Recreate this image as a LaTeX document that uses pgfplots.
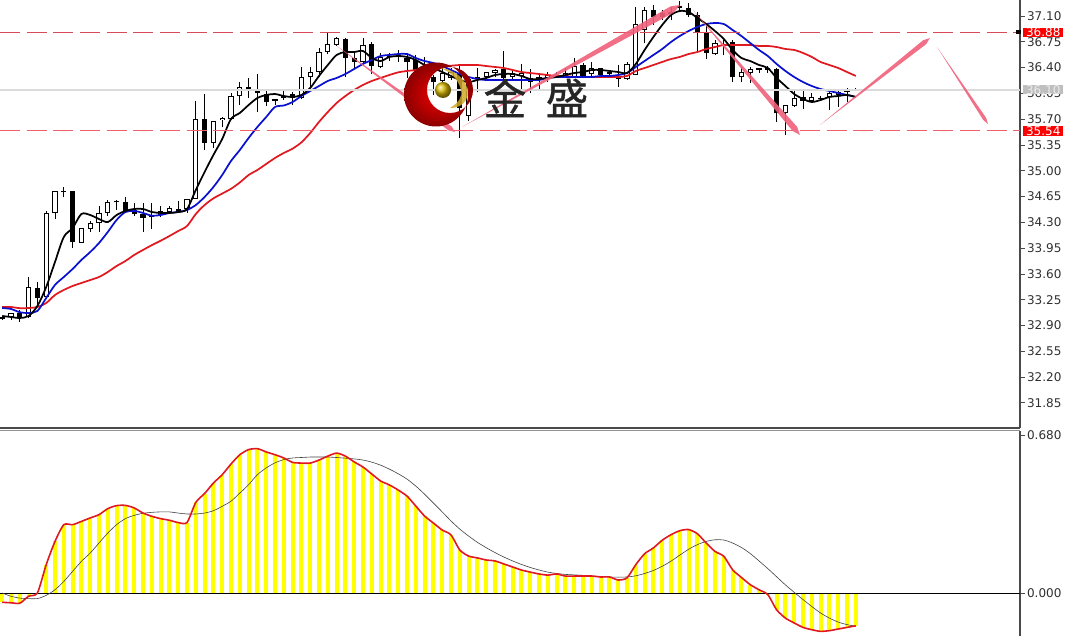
\documentclass[border=0pt]{standalone}
\usepackage{fontspec}
\usepackage{pgfplots}
\usepackage{pgfplotstable}
\pgfplotsset{compat=1.18}
\setmainfont{DejaVu Sans}
\newfontfamily\cjk[FakeBold=1]{Noto Sans CJK SC}

\definecolor{dashtop}{HTML}{D84A58}
\definecolor{dashlow}{HTML}{F0606C}
\definecolor{arrowpink}{HTML}{F0607A}
\definecolor{axisgray}{HTML}{4A4A4A}
\definecolor{ticktext}{HTML}{303030}
\definecolor{blueline}{HTML}{0A10D0}
\definecolor{redline}{HTML}{E01820}
\definecolor{histyellow}{HTML}{FFFF00}

% bar, open, high, low, close
\pgfplotstableread{
i open high low close
0 33.01 33.03 32.97 32.99
1 33.02 33.07 32.98 33.07
2 33.07 33.11 32.95 33.00
3 33.02 33.56 33.00 33.42
4 33.41 33.49 33.15 33.27
5 33.29 34.45 33.27 34.43
6 34.43 34.73 34.35 34.73
7 34.73 34.78 34.64 34.71
8 34.73 34.73 33.95 34.03
9 34.02 34.22 34.02 34.22
10 34.21 34.32 34.17 34.29
11 34.29 34.52 34.17 34.43
12 34.43 34.60 34.39 34.58
13 34.59 34.60 34.47 34.57
14 34.58 34.64 34.43 34.44
15 34.47 34.56 34.39 34.41
16 34.41 34.56 34.17 34.36
17 34.39 34.56 34.21 34.37
18 34.40 34.52 34.37 34.45
19 34.44 34.52 34.44 34.49
20 34.48 34.59 34.44 34.44
21 34.48 34.62 34.43 34.62
22 34.62 35.95 34.62 35.70
23 35.70 36.04 35.28 35.38
24 35.38 35.67 35.31 35.67
25 35.69 35.73 35.59 35.72
26 35.70 36.05 35.69 36.01
27 36.01 36.20 35.89 36.14
28 36.14 36.26 35.99 36.08
29 36.08 36.31 35.80 36.05
30 36.04 36.08 35.88 35.93
31 35.97 35.97 35.89 35.95
32 35.99 36.08 35.96 36.01
33 36.04 36.07 35.89 35.99
34 35.99 36.41 35.97 36.27
35 36.27 36.41 36.12 36.34
36 36.34 36.67 36.27 36.61
37 36.61 36.87 36.58 36.72
38 36.71 36.82 36.69 36.80
39 36.79 36.80 36.27 36.53
40 36.53 36.61 36.39 36.48
41 36.48 36.80 36.46 36.71
42 36.72 36.75 36.31 36.42
43 36.41 36.60 36.39 36.54
44 36.54 36.60 36.49 36.56
45 36.54 36.64 36.48 36.57
46 36.53 36.60 36.26 36.48
47 36.50 36.57 36.30 36.37
48 36.42 36.54 36.31 36.37
49 36.27 36.30 36.03 36.20
50 36.22 36.39 36.16 36.33
51 36.26 36.39 36.23 36.34
52 36.33 36.45 35.44 35.85
53 35.74 36.29 35.68 36.25
54 36.25 36.39 36.07 36.27
55 36.27 36.34 36.23 36.34
56 36.33 36.38 36.27 36.37
57 36.38 36.63 36.23 36.26
58 36.27 36.37 36.23 36.33
59 36.29 36.45 36.10 36.33
60 36.25 36.38 36.05 36.20
61 36.27 36.33 36.10 36.23
62 36.26 36.34 36.20 36.30
63 36.30 36.34 36.26 36.27
64 36.27 36.39 36.26 36.33
65 36.27 36.53 36.26 36.42
66 36.44 36.46 36.26 36.27
67 36.31 36.48 36.27 36.39
68 36.39 36.40 36.27 36.30
69 36.34 36.37 36.26 36.31
70 36.29 36.44 36.14 36.25
71 36.25 36.48 36.23 36.45
72 36.30 37.22 36.30 36.99
73 36.91 37.22 36.73 37.18
74 37.18 37.25 36.98 37.09
75 37.14 37.18 37.05 37.09
76 37.13 37.22 37.05 37.15
77 37.23 37.30 37.15 37.21
78 37.21 37.28 37.09 37.11
79 37.11 37.15 36.61 36.88
80 36.88 37.00 36.52 36.60
81 36.58 36.77 36.57 36.73
82 36.71 36.77 36.57 36.69
83 36.75 36.77 36.20 36.27
84 36.27 36.41 36.20 36.34
85 36.33 36.41 36.19 36.38
86 36.39 36.40 36.33 36.37
87 36.39 36.42 36.33 36.37
88 36.38 36.40 35.66 35.78
89 35.78 35.89 35.49 35.89
90 35.88 36.10 35.87 35.99
91 36.00 36.10 35.84 35.95
92 35.95 36.05 35.93 36.00
93 35.99 36.01 35.96 35.98
94 36.00 36.07 35.82 36.05
95 36.03 36.10 35.87 36.07
96 36.09 36.12 35.93 36.07
97 36.11 36.12 36.09 36.09
}\candles

% moving averages per bar
\pgfplotstableread{
i fast mid slow
0 33.029 33.137 33.151
1 33.015 33.124 33.151
2 33.002 33.080 33.135
3 33.029 33.070 33.137
4 33.165 33.097 33.151
5 33.422 33.273 33.205
6 33.762 33.450 33.314
7 34.101 33.558 33.382
8 34.223 33.667 33.436
9 34.413 33.789 33.477
10 34.399 33.897 33.517
11 34.345 34.019 33.558
12 34.304 34.169 33.626
13 34.399 34.332 33.707
14 34.454 34.440 33.775
15 34.481 34.454 33.857
16 34.481 34.427 33.925
17 34.440 34.390 33.990
18 34.427 34.399 34.050
19 34.427 34.427 34.114
20 34.440 34.440 34.182
21 34.481 34.467 34.250
22 34.739 34.535 34.413
23 34.983 34.644 34.535
24 35.214 34.779 34.625
25 35.431 34.942 34.690
26 35.702 35.132 34.755
27 35.784 35.281 34.840
28 35.892 35.444 34.942
29 35.987 35.594 35.010
30 36.028 35.729 35.092
31 36.041 35.865 35.173
32 36.014 35.885 35.241
33 36.001 35.933 35.300
34 36.028 36.014 35.385
35 36.123 36.082 35.512
36 36.286 36.150 35.662
37 36.435 36.218 35.797
38 36.571 36.259 35.919
39 36.611 36.313 36.014
40 36.611 36.381 36.096
41 36.625 36.449 36.164
42 36.530 36.503 36.218
43 36.489 36.557 36.259
44 36.544 36.571 36.299
45 36.557 36.584 36.335
46 36.544 36.584 36.354
47 36.503 36.530 36.367
48 36.435 36.489 36.394
49 36.394 36.462 36.408
50 36.340 36.421 36.421
51 36.286 36.367 36.425
52 36.231 36.313 36.435
53 36.204 36.272 36.435
54 36.231 36.245 36.435
55 36.259 36.231 36.421
56 36.299 36.231 36.408
57 36.313 36.231 36.394
58 36.313 36.231 36.367
59 36.286 36.231 36.340
60 36.245 36.231 36.326
61 36.245 36.231 36.313
62 36.259 36.259 36.299
63 36.272 36.272 36.286
64 36.299 36.272 36.286
65 36.326 36.272 36.272
66 36.340 36.272 36.272
67 36.367 36.272 36.272
68 36.367 36.286 36.272
69 36.354 36.286 36.272
70 36.340 36.299 36.272
71 36.326 36.326 36.286
72 36.449 36.408 36.354
73 36.639 36.489 36.394
74 36.815 36.571 36.435
75 36.978 36.652 36.476
76 37.113 36.747 36.516
77 37.168 36.828 36.544
78 37.154 36.896 36.584
79 37.073 36.951 36.611
80 36.991 36.991 36.652
81 36.896 37.005 36.679
82 36.788 36.991 36.706
83 36.639 36.910 36.706
84 36.530 36.828 36.706
85 36.489 36.734 36.706
86 36.435 36.639 36.693
87 36.394 36.557 36.693
88 36.259 36.449 36.679
89 36.150 36.354 36.652
90 36.041 36.272 36.639
91 35.974 36.204 36.598
92 35.933 36.150 36.544
93 35.960 36.109 36.476
94 36.001 36.082 36.435
95 36.014 36.055 36.394
96 36.028 36.028 36.340
97 36.001 36.001 36.286
}\averages

% lower panel
\pgfplotstableread{
i hist sig
0 -0.040 0.000
1 -0.042 -0.014
2 -0.044 -0.022
3 -0.014 -0.024
4 0.000 -0.024
5 0.122 -0.010
6 0.222 0.014
7 0.294 0.050
8 0.294 0.093
9 0.308 0.136
10 0.323 0.172
11 0.337 0.215
12 0.363 0.258
13 0.376 0.294
14 0.377 0.320
15 0.366 0.334
16 0.344 0.343
17 0.330 0.347
18 0.320 0.349
19 0.313 0.349
20 0.303 0.344
21 0.303 0.340
22 0.390 0.340
23 0.428 0.344
24 0.473 0.354
25 0.509 0.373
26 0.555 0.395
27 0.595 0.430
28 0.617 0.466
29 0.621 0.509
30 0.607 0.538
31 0.595 0.560
32 0.581 0.574
33 0.562 0.581
34 0.559 0.583
35 0.559 0.585
36 0.572 0.585
37 0.589 0.585
38 0.602 0.583
39 0.589 0.580
40 0.564 0.577
41 0.542 0.572
42 0.512 0.563
43 0.482 0.550
44 0.465 0.533
45 0.443 0.513
46 0.417 0.490
47 0.374 0.460
48 0.331 0.425
49 0.301 0.387
50 0.271 0.349
51 0.250 0.310
52 0.185 0.275
53 0.159 0.245
54 0.151 0.218
55 0.142 0.195
56 0.138 0.174
57 0.125 0.155
58 0.112 0.138
59 0.099 0.123
60 0.090 0.110
61 0.082 0.099
62 0.077 0.090
63 0.082 0.084
64 0.073 0.080
65 0.073 0.078
66 0.073 0.076
67 0.073 0.073
68 0.069 0.071
69 0.069 0.069
70 0.056 0.068
71 0.065 0.069
72 0.122 0.074
73 0.169 0.084
74 0.194 0.097
75 0.227 0.115
76 0.251 0.137
77 0.268 0.163
78 0.273 0.188
79 0.255 0.208
80 0.215 0.222
81 0.179 0.229
82 0.158 0.228
83 0.100 0.215
84 0.067 0.196
85 0.036 0.170
86 0.014 0.138
87 -0.007 0.105
88 -0.072 0.070
89 -0.108 0.035
90 -0.129 0.003
91 -0.148 -0.028
92 -0.158 -0.058
93 -0.165 -0.086
94 -0.162 -0.108
95 -0.155 -0.125
96 -0.148 -0.136
97 -0.141 -0.143
}\macd

\pgfplotsset{
  panel/.style={
    scale only axis, width=765pt, clip=true,
    xmin=-0.25, xmax=115.66,
    axis y line=right, axis x line=none,
    axis line style={-, draw=axisgray, line width=0.9pt},
    tick align=outside, major tick length=3.75pt,
    y tick style={draw=axisgray, line width=0.6pt},
    yticklabel style={font=\fontsize{9}{9}\selectfont, text=ticktext, xshift=-2pt},
  },
}

\begin{document}
\begin{tikzpicture}
\path[use as bounding box] (0,0) rectangle (799.5pt,477pt);

\begin{axis}[panel, at={(0,156pt)}, height=321pt,
  ymin=31.509, ymax=37.317,
  ytick={31.85,32.20,32.55,32.90,33.25,33.60,33.95,34.30,34.65,35.00,35.35,35.70,36.05,36.40,36.75,37.10},
  yticklabel style={/pgf/number format/.cd, fixed, fixed zerofill, precision=2, assume math mode=true},
]
  % wicks
  \addplot[draw=none, mark=none, error bars/.cd, y dir=plus, y explicit, error mark=none,
    error bar style={line width=0.7pt, draw=black}]
    table[x=i, y=low, y error plus expr=\thisrow{high}-\thisrow{low}] {\candles};
  % bodies: black, then a white core on the rising bars
  \addplot[draw=none, mark=none, error bars/.cd, y dir=plus, y explicit, error mark=none,
    error bar style={line width=3.9pt, draw=black}]
    table[x=i, y expr={min(\thisrow{open},\thisrow{close})},
      y error plus expr={abs(\thisrow{close}-\thisrow{open})}] {\candles};
  \addplot[draw=none, mark=none, error bars/.cd, y dir=plus, y explicit, error mark=none,
    error bar style={line width=2.4pt, draw=white}]
    table[x=i, y expr={\thisrow{open}+0.014},
      y error plus expr={max(\thisrow{close}-\thisrow{open}-0.028,0)}] {\candles};

  \addplot[redline, line width=1.3pt, smooth, tension=0.5] table[x=i, y=slow] {\averages};
  \addplot[blueline, line width=1.3pt, smooth, tension=0.5] table[x=i, y=mid] {\averages};
  \addplot[black, line width=1.3pt, smooth, tension=0.5] table[x=i, y=fast] {\averages};

  % price levels
  \addplot[black!14, line width=1.4pt] coordinates {(-0.25,36.10) (115.66,36.10)};
  \addplot[dashtop, line width=0.75pt, dash pattern=on 15pt off 5pt] coordinates {(-0.25,36.876) (115.66,36.876)};
  \addplot[dashlow, line width=0.75pt, dash pattern=on 15pt off 5pt] coordinates {(-0.25,35.54) (115.66,35.54)};

  % hand-drawn arrows
  \addplot[fill=arrowpink, draw=none, fill opacity=0.9] coordinates {(37.82,36.71) (51.07,35.600) (51.45,35.526) (50.73,35.546)} -- cycle;
  \addplot[fill=arrowpink, draw=none, fill opacity=0.9] coordinates {(52.25,35.594) (76.33,37.147) (77.02,37.249) (75.94,37.230)} -- cycle;
  \addplot[fill=arrowpink, draw=none, fill opacity=0.9] coordinates {(78.5,37.181) (90.33,35.595) (90.66,35.485) (89.81,35.541)} -- cycle;
  \addplot[fill=arrowpink, draw=none, fill opacity=0.9] coordinates {(92.93,35.621) (104.98,36.716) (105.43,36.801) (104.64,36.770)} -- cycle;
  \addplot[fill=arrowpink, draw=none, fill opacity=0.9] coordinates {(106.23,36.679) (111.82,35.716) (112.02,35.634) (111.48,35.689)} -- cycle;

  \coordinate (hi) at (axis cs:115.66,36.876);
  \coordinate (mid) at (axis cs:115.66,36.10);
  \coordinate (lo) at (axis cs:115.66,35.54);
\end{axis}

\begin{axis}[panel, at={(0,0)}, height=153.75pt,
  ymin=-0.185, ymax=0.697,
  ytick={0,0.68},
  yticklabel style={/pgf/number format/.cd, fixed, fixed zerofill, precision=3, assume math mode=true},
]
  \addplot[ycomb, histyellow, line width=3pt] table[x=i, y=hist] {\macd};
  \addplot[black, line width=0.6pt] coordinates {(-0.25,0) (115.66,0)};
  \addplot[black!75, line width=0.45pt, smooth, tension=0.5] table[x=i, y=sig] {\macd};
  \addplot[redline, line width=1.2pt, smooth, tension=0.4] table[x=i, y=hist] {\macd};
\end{axis}

% panel divider
\draw[axisgray, line width=1.1pt] (0,156pt) -- (765pt,156pt);
\draw[axisgray!60, line width=0.4pt] (0,154.6pt) -- (765pt,154.6pt);

% price boxes on the scale
\foreach \c/\f/\t/\v in {hi/red/white/36.88, mid/black!25/black!8/36.10, lo/red/white/35.54}
  \node[fill=\f, text=\t, anchor=west, inner sep=0pt, minimum width=30pt, minimum height=6.9pt,
    font=\fontsize{9}{9}\selectfont] at ([xshift=2.2pt]\c) {\v};
\fill[black] ([xshift=-2.8pt,yshift=-1.5pt]hi) rectangle ([xshift=0.4pt,yshift=1.5pt]hi);

% watermark logo and name
\begin{scope}[shift={(0pt,477pt)}, x=0.75pt, y=-0.75pt]
  \shade[even odd rule, inner color=red!95!black, outer color=red!55!black]
    (436,94.5) circle (32) (450,90) circle (23);
  \fill[yellow!55!orange!80!black, opacity=0.85]
    (441,68) .. controls (460,70) and (473,88) .. (466,100)
    .. controls (463,105) and (458,108) .. (450,108)
    .. controls (458,103) and (463,97) .. (461,90)
    .. controls (458,78) and (450,72) .. cycle;
  \shade[ball color=yellow!70!orange!85!black] (443,90) circle (8);
  \node[font=\cjk\fontsize{32}{32}\selectfont, text=black!85] at (505,98) {金};
  \node[font=\cjk\fontsize{32}{32}\selectfont, text=black!85] at (567,98) {盛};
\end{scope}
\end{tikzpicture}
\end{document}
